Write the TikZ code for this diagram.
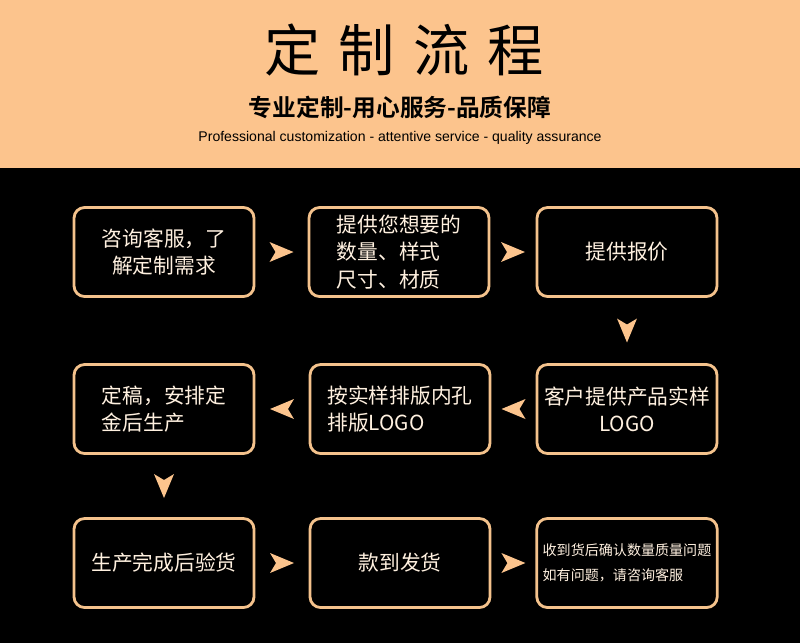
\documentclass[tikz,border=0pt]{standalone}
\usepackage{fontspec}
\setmainfont{Liberation Sans}
\newfontfamily\cjk{Noto Sans CJK SC}
\newfontfamily\cjkbold{Noto Sans CJK SC Bold}
\usetikzlibrary{positioning,calc}
\definecolor{peach}{HTML}{FCC48D}
\definecolor{boxline}{HTML}{F4C28C}
\definecolor{txtpale}{HTML}{FFF1E0}

\begin{document}
\begin{tikzpicture}[
    x=0.02cm, y=-0.02cm,
    stepbox/.style={draw=boxline, line width=1.6pt, rounded corners=6pt, minimum width=3.6cm, minimum height=1.78cm, text=txtpale, font=\cjk\fontsize{11.8}{15.5}\selectfont, align=left},
    chev/.style={fill=peach},
]

% 背景
\fill[black] (0,0) rectangle (800,643);
\fill[peach] (0,0) rectangle (800,168);

% 标题
\node[font=\cjk\fontsize{32}{34}\selectfont] (title) at (404,50) {定\hspace{0.32em}制\hspace{0.32em}流\hspace{0.32em}程};
\node[font=\cjkbold\fontsize{13.5}{16}\selectfont] (sub) at (400,107) {专业定制-用心服务-品质保障};
\node[font=\fontsize{8}{10}\selectfont] (eng) at (400,138) {Professional customization - attentive service - quality assurance};

% 第一行
\node[stepbox] (b1) at (164,252) {咨询客服，了\\\hspace{0.5em}解定制需求};
\node[stepbox] (b2) at (399,252) {提供您想要的\\数量、样式\\尺寸、材质};
\node[stepbox] (b3) at (627,252) {提供报价};

% 第二行
\node[stepbox] (b4) at (164,409) {定稿，安排定\\金后生产};
\node[stepbox] (b5) at (400,409) {按实样排版内孔\\排版LOGO};
\node[stepbox, align=center] (b6) at (627,409) {客户提供产品实样\\LOGO};

% 第三行
\node[stepbox] (b7) at (164,563) {生产完成后验货};
\node[stepbox] (b8) at (400,563) {款到发货};
\node[stepbox, font=\cjk\fontsize{8}{14}\selectfont] (b9) at (627,563) {收到货后确认数量质量问题\\如有问题，请咨询客服};

% 箭头（右）
\foreach \a/\b in {b1/b2, b2/b3, b7/b8, b8/b9}
  \fill[chev] ($(\a.east)!0.5!(\b.west)$) ++(-12,-10) -- ++(24,10) -- ++(-24,10) -- ++(6,-10) -- cycle;
% 箭头（左）
\foreach \a/\b in {b6/b5, b5/b4}
  \fill[chev] ($(\a.west)!0.5!(\b.east)$) ++(12,-10) -- ++(-24,10) -- ++(24,10) -- ++(-6,-10) -- cycle;
% 箭头（下）
\foreach \a/\b in {b3/b6, b4/b7}
  \fill[chev] ($(\a.south)!0.5!(\b.north)$) ++(-10,-12) -- ++(10,24) -- ++(10,-24) -- ++(-10,6) -- cycle;

\end{tikzpicture}
\end{document}
